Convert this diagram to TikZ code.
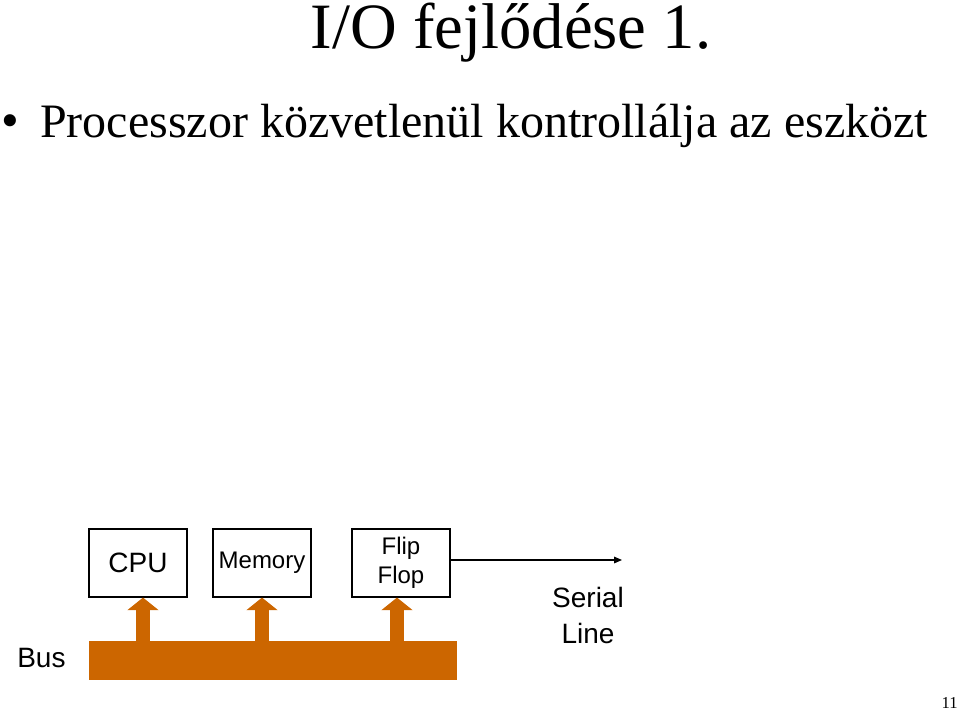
\documentclass[tikz,border=0pt]{standalone}
\usepackage{fontspec}
\setmainfont{Liberation Serif}
\newfontfamily\arialf{Liberation Sans}
\usetikzlibrary{arrows.meta}
\definecolor{busorange}{HTML}{CC6600}
\tikzset{
  boxnode/.style={draw=black, line width=0.8pt, minimum width=73.5pt, minimum height=51pt, inner sep=0pt, align=center},
  sans/.style={font=\arialf\fontsize{21pt}{27pt}\selectfont},
  sanssmall/.style={font=\arialf\fontsize{18pt}{21.75pt}\selectfont},
  busarrow/.style={draw=busorange, line width=11pt, -{Triangle[length=9.5pt,width=23pt]}},
  serialarrow/.style={draw=black, line width=0.8pt, -{Triangle[length=6pt,width=5pt]}},
}
\begin{document}
\begin{tikzpicture}[x=0.75pt,y=-0.75pt]
\useasboundingbox (0,0) rectangle (960,720);
% title and bullet
\node[anchor=base, inner sep=0pt, font=\fontsize{48.5pt}{50pt}\selectfont] (title) at (511,49) {I/O fejlődése 1.};
\node[anchor=base west, inner sep=0pt, font=\fontsize{38pt}{40pt}\selectfont] (bullet) at (1,138) {•};
\node[anchor=base west, inner sep=0pt, font=\fontsize{36pt}{40pt}\selectfont] (line1) at (40,138) {Processzor közvetlenül kontrollálja az eszközt};
% boxes
\node[boxnode, sans] (cpu) at (138,563) {CPU};
\node[boxnode, sanssmall] (mem) at (262,563) {Memory};
\node[boxnode, sanssmall] (ff) at (401,563) {Flip\\Flop};
% bus
\node[fill=busorange, minimum width=276pt, minimum height=29.25pt, inner sep=0pt] (bus) at (273,660.5) {};
\node[anchor=base west, inner sep=0pt, sans] (buslabel) at (17,667) {Bus};
% bus arrows
\coordinate (a1) at (143,641);
\coordinate (a2) at (262,641);
\coordinate (a3) at (397,641);
\draw[busarrow] (a1) -- (a1 |- cpu.south);
\draw[busarrow] (a2) -- (a2 |- mem.south);
\draw[busarrow] (a3) -- (a3 |- ff.south);
% serial line
\coordinate (serialend) at (622,560);
\draw[serialarrow] (ff.east |- serialend) -- (serialend);
\node[anchor=north, inner sep=0pt, align=center, sans] (seriallabel) at (588,587) {Serial\\Line};
% page number
\node[anchor=base east, inner sep=0pt, font=\fontsize{12.5pt}{13pt}\selectfont] (pagenum) at (958,708) {11};
\end{tikzpicture}
\end{document}
